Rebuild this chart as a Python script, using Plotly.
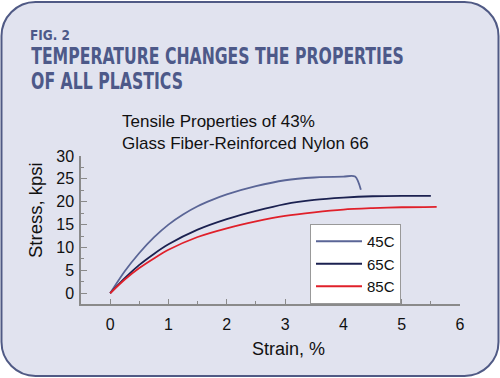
import json
import plotly.graph_objects as go

# ---- data ----
strain_45 = [0, 0.25, 0.5, 0.75, 1.0, 1.25, 1.5, 1.75, 2.0, 2.5, 3.0, 3.5, 4.0, 4.2, 4.3]
stress_45 = [0, 4.8, 8.8, 12.2, 15.0, 17.2, 19.0, 20.4, 21.6, 23.4, 24.7, 25.3, 25.5, 25.5, 22.6]

strain_65 = [0, 0.25, 0.5, 0.75, 1.0, 1.5, 2.0, 2.5, 3.0, 3.5, 4.0, 4.5, 5.0, 5.5]
stress_65 = [0, 3.3, 6.2, 8.6, 10.7, 13.9, 16.2, 18.0, 19.5, 20.4, 20.9, 21.2, 21.3, 21.3]

strain_85 = [0, 0.25, 0.5, 0.75, 1.0, 1.5, 2.0, 2.5, 3.0, 3.5, 4.0, 4.5, 5.0, 5.6]
stress_85 = [0, 3.0, 5.5, 7.6, 9.5, 12.3, 14.2, 15.7, 16.9, 17.7, 18.3, 18.6, 18.8, 18.9]

series_names = ["45C", "65C", "85C"]
series_colors = ["#5a6596", "#1b2150", "#e0202a"]

x_ticks = [0, 1, 2, 3, 4, 5, 6]
y_ticks = [0, 5, 10, 15, 20, 25, 30]

fig_label = "FIG. 2"
headline = ["TEMPERATURE CHANGES THE PROPERTIES", "OF ALL PLASTICS"]
chart_title = ["Tensile Properties of 43%", "Glass Fiber-Reinforced Nylon 66"]
x_title = "Strain, %"
y_title = "Stress, kpsi"

# ---- layout geometry (pixels) ----
W, H = 500, 378
ML, MR, MT, MB = 81, 40, 156, 74
PW, PH = W - ML - MR, H - MT - MB


def px(xp):
    return (xp - ML) / PW


def py(yp):
    return (H - MB - yp) / PH


fig = go.Figure()
for xs, ys, name, col in zip([strain_45, strain_65, strain_85],
                             [stress_45, stress_65, stress_85],
                             series_names, series_colors):
    fig.add_trace(go.Scatter(x=xs, y=ys, name=name, mode="lines",
                             line=dict(color=col, width=1.8, shape="spline", smoothing=0.8)))

# rounded frame
x0, x1, y0, y1, r = 1.5, 498.5, 2.0, 376.0, 34
k = 0.5523 * r
path = (
    f"M{px(x0 + r)},{py(y0)} L{px(x1 - r)},{py(y0)} "
    f"C{px(x1 - r + k)},{py(y0)} {px(x1)},{py(y0 + r - k)} {px(x1)},{py(y0 + r)} "
    f"L{px(x1)},{py(y1 - r)} "
    f"C{px(x1)},{py(y1 - r + k)} {px(x1 - r + k)},{py(y1)} {px(x1 - r)},{py(y1)} "
    f"L{px(x0 + r)},{py(y1)} "
    f"C{px(x0 + r - k)},{py(y1)} {px(x0)},{py(y1 - r + k)} {px(x0)},{py(y1 - r)} "
    f"L{px(x0)},{py(y0 + r)} "
    f"C{px(x0)},{py(y0 + r - k)} {px(x0 + r - k)},{py(y0)} {px(x0 + r)},{py(y0)} Z"
)
fig.add_shape(type="path", path=path, xref="paper", yref="paper", layer="below",
              fillcolor="#e1e3ef", line=dict(color="#505a85", width=2))

head_font = "DejaVu Sans Condensed, DejaVu Sans, sans-serif"
head_col = "#4d5989"
fig.add_annotation(x=px(28), y=py(35), xref="paper", yref="paper", xanchor="left", yanchor="middle",
                   text=f"<b>{fig_label}</b>", showarrow=False,
                   font=dict(family=head_font, size=14, color=head_col))
fig.add_annotation(x=px(29), y=py(56), xref="paper", yref="paper", xanchor="left", yanchor="middle",
                   text=f"<b>{headline[0]}</b>", showarrow=False,
                   font=dict(family=head_font, size=23, color=head_col))
fig.add_annotation(x=px(29), y=py(81), xref="paper", yref="paper", xanchor="left", yanchor="middle",
                   text=f"<b>{headline[1]}</b>", showarrow=False,
                   font=dict(family=head_font, size=23, color=head_col))

body_font = "Liberation Sans, Arial, Helvetica, sans-serif"
fig.add_annotation(x=px(120), y=py(132), xref="paper", yref="paper", xanchor="left", yanchor="middle",
                   text="<br>".join(chart_title), align="left", showarrow=False,
                   font=dict(family=body_font, size=17, color="#111111"))
fig.add_annotation(x=px(288), y=py(349), xref="paper", yref="paper", xanchor="center", yanchor="middle",
                   text=x_title, showarrow=False,
                   font=dict(family=body_font, size=18, color="#111111"))
fig.add_annotation(x=px(35), y=py(210), xref="paper", yref="paper", xanchor="center", yanchor="middle",
                   text=y_title, textangle=-90, showarrow=False,
                   font=dict(family=body_font, size=18.5, color="#111111"))

axis_col = "#8a8a8a"
fig.update_xaxes(range=[-0.5, 6], tickvals=x_ticks, ticktext=[str(v) for v in x_ticks],
                 showgrid=False, zeroline=False, showline=True, linecolor=axis_col, linewidth=1.5,
                 ticks="inside", ticklen=5, tickcolor=axis_col, tickwidth=1,
                 minor=dict(dtick=0.5, tick0=0, ticks="inside", ticklen=3, tickcolor=axis_col),
                 ticklabelstandoff=5,
                 tickfont=dict(family=body_font, size=16, color="#111111"))
fig.update_yaxes(range=[-2.35, 30], tickvals=y_ticks, ticktext=[str(v) for v in y_ticks],
                 showgrid=False, zeroline=False, showline=True, linecolor=axis_col, linewidth=1.5,
                 ticks="inside", ticklen=6, tickcolor=axis_col, tickwidth=1,
                 minor=dict(dtick=2.5, tick0=0, ticks="inside", ticklen=3, tickcolor=axis_col),
                 ticklabelstandoff=2,
                 tickfont=dict(family=body_font, size=16, color="#111111"))

fig.update_layout(
    width=W, height=H, autosize=False,
    margin=dict(l=ML, r=MR, t=MT, b=MB, pad=0),
    paper_bgcolor="white", plot_bgcolor="rgba(0,0,0,0)",
    showlegend=True,
    legend=dict(x=px(310), y=py(224), xanchor="left", yanchor="top",
                bgcolor="white", bordercolor="#999999", borderwidth=1,
                font=dict(family=body_font, size=15, color="#111111"),
                itemwidth=46, tracegroupgap=0, entrywidth=92, entrywidthmode="pixels"),
)

# condensed headline lettering: squeeze the heading texts to the widths seen in the reference
head_widths = {fig_label: 40, headline[0]: 373, headline[1]: 152}
post = (
    "document.body.style.margin='0';"
    "var tw=" + json.dumps(head_widths) + ";"
    "document.querySelectorAll('text.annotation-text').forEach(function(t){"
    "var w=tw[t.textContent];if(!w)return;var bb=t.getBBox();if(!bb.width)return;"
    "t.style.transformBox='fill-box';t.style.transformOrigin='0% 50%';"
    "t.style.transform='scaleX('+(w/bb.width)+')';});"
)

fig.write_html("out.html", config={"displayModeBar": False}, post_script=post)
